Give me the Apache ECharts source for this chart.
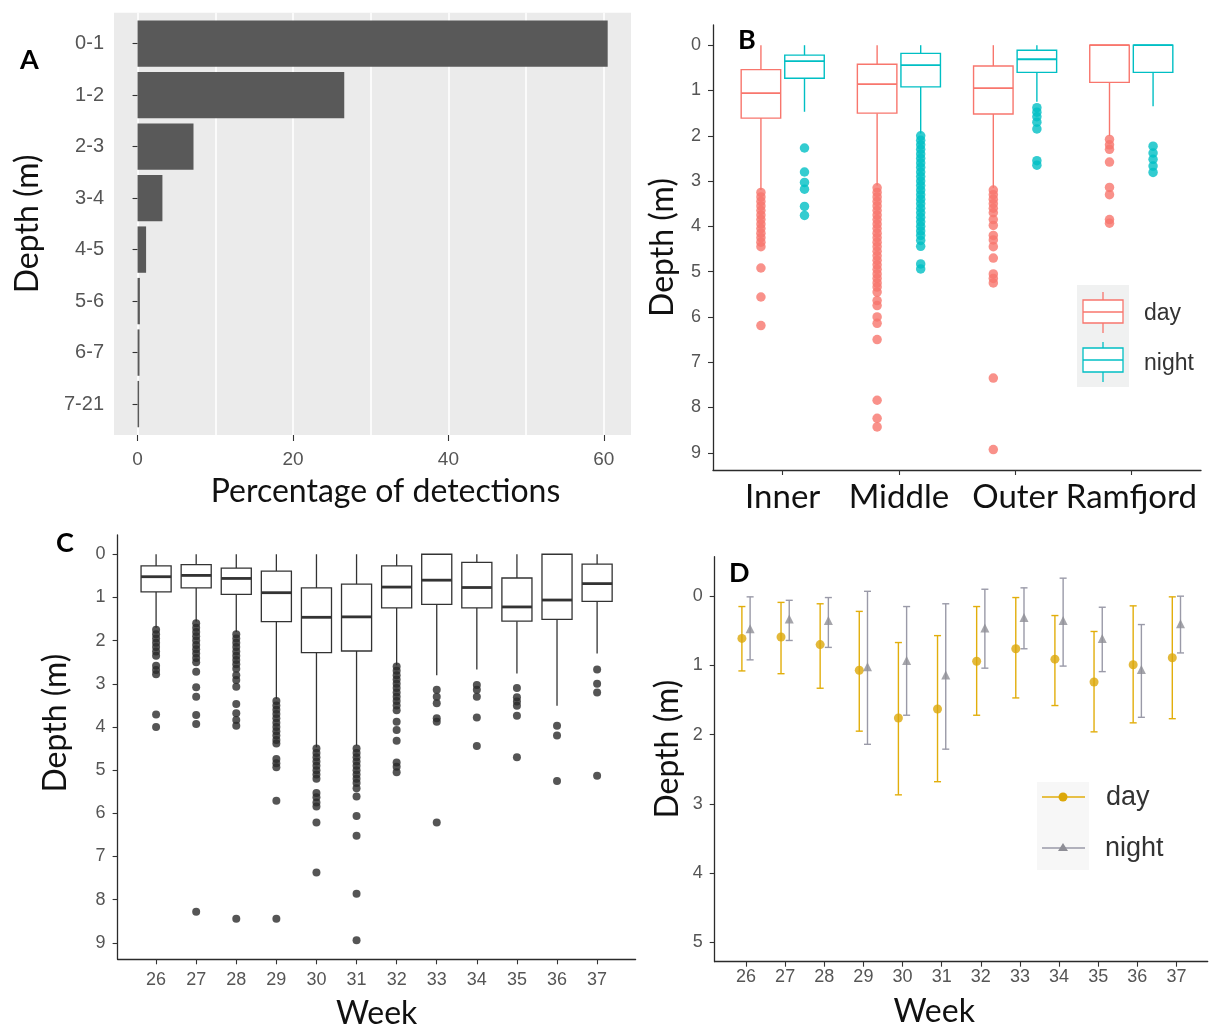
<!DOCTYPE html>
<html>
<head>
<meta charset="utf-8">
<script src="https://cdn.jsdelivr.net/npm/echarts@6/dist/echarts.min.js"></script>
<style>
  html, body { margin: 0; padding: 0; background: #fff; }
  #chart { width: 1210px; height: 1032px; }
</style>
</head>
<body>
<div id="chart"></div>
<script>
// ---- panel A: share of detections per depth bin
const depthBins = ['0-1', '1-2', '2-3', '3-4', '4-5', '5-6', '6-7', '7-21'];
const pctDetections = [60.5, 26.6, 7.2, 3.2, 1.1, 0.3, 0.25, 0.2];
const pctTicks = [0, 20, 40, 60];
const pctGrid = [0, 10, 20, 30, 40, 50, 60];

// ---- panel B: depth by site, day / night
// each box: [upper whisker, Q1, median, Q3, lower whisker] in metres
const sites = ['Inner', 'Middle', 'Outer', 'Ramfjord'];
const siteDay = [
  [0, 0.54, 1.06, 1.61, 3.2],
  [0, 0.42, 0.86, 1.5, 3.1],
  [0, 0.46, 0.95, 1.52, 3.15],
  [0, 0, 0, 0.82, 2.0]
];
const siteNight = [
  [0, 0.22, 0.35, 0.73, 1.47],
  [0, 0.18, 0.44, 0.92, 1.95],
  [0, 0.11, 0.31, 0.6, 1.25],
  [0, 0, 0, 0.6, 1.35]
];
const siteDayOut = [
  [3.25, 3.35, 3.45, 3.55, 3.65, 3.75, 3.85, 3.95, 4.05, 4.15, 4.25, 4.35, 4.45, 4.92, 5.56, 6.19],
  [3.15, 3.25, 3.35, 3.45, 3.55, 3.65, 3.75, 3.85, 3.95, 4.05, 4.15, 4.25, 4.35, 4.45, 4.55, 4.65,
   4.75, 4.85, 4.95, 5.05, 5.15, 5.25, 5.34, 5.45, 5.64, 5.75, 6.0, 6.14, 6.5, 7.84, 8.24, 8.43],
  [3.2, 3.3, 3.4, 3.5, 3.6, 3.7, 3.85, 3.98, 4.2, 4.3, 4.45, 4.7, 5.05, 5.15, 5.25, 7.35, 8.93],
  [2.08, 2.2, 2.3, 2.58, 3.14, 3.3, 3.85, 3.93]
];
const siteNightOut = [
  [2.27, 2.8, 3.03, 3.18, 3.56, 3.76],
  [2.0, 2.1, 2.2, 2.3, 2.4, 2.5, 2.6, 2.7, 2.8, 2.9, 3.0, 3.1, 3.2, 3.3, 3.4, 3.5, 3.6, 3.7,
   3.8, 3.9, 4.0, 4.1, 4.2, 4.31, 4.44, 4.83, 4.94],
  [1.38, 1.48, 1.58, 1.7, 1.85, 2.55, 2.65],
  [2.23, 2.38, 2.52, 2.67, 2.81]
];
const depthTicks = [0, 1, 2, 3, 4, 5, 6, 7, 8, 9];

// ---- panel C: depth by week
const weeks = [26, 27, 28, 29, 30, 31, 32, 33, 34, 35, 36, 37];
const weekBox = [
  [0, 0.27, 0.52, 0.87, 1.7],
  [0, 0.24, 0.49, 0.78, 1.56],
  [0, 0.32, 0.56, 0.93, 1.8],
  [0, 0.39, 0.89, 1.56, 3.35],
  [0, 0.78, 1.46, 2.28, 4.47],
  [0, 0.69, 1.45, 2.24, 4.43],
  [0, 0.27, 0.76, 1.24, 2.57],
  [0, 0, 0.6, 1.16, 2.8],
  [0, 0.19, 0.77, 1.24, 2.67],
  [0, 0.55, 1.22, 1.55, 2.76],
  [0, 0, 1.06, 1.51, 3.51],
  [0, 0.23, 0.68, 1.09, 2.3]
];
const weekOut = [
  [1.75, 1.85, 1.95, 2.05, 2.15, 2.25, 2.35, 2.58, 2.68, 2.78, 3.71, 4.0],
  [1.6, 1.7, 1.8, 1.9, 2.0, 2.1, 2.2, 2.3, 2.4, 2.5, 2.72, 3.08, 3.3, 3.72, 3.93, 8.28],
  [1.85, 1.95, 2.05, 2.15, 2.25, 2.35, 2.45, 2.55, 2.65, 2.8, 2.91, 3.07, 3.47, 3.68, 3.84, 3.97, 8.44],
  [3.4, 3.5, 3.6, 3.7, 3.8, 3.9, 4.0, 4.1, 4.2, 4.3, 4.38, 4.74, 4.84, 4.93, 5.71, 8.44],
  [4.5, 4.6, 4.7, 4.8, 4.9, 5.0, 5.1, 5.2, 5.53, 5.63, 5.75, 5.84, 6.21, 7.37],
  [4.5, 4.6, 4.7, 4.8, 4.9, 5.0, 5.1, 5.2, 5.3, 5.42, 5.61, 6.06, 6.52, 7.86, 8.94],
  [2.6, 2.7, 2.8, 2.9, 3.0, 3.1, 3.2, 3.3, 3.4, 3.5, 3.61, 3.88, 4.07, 4.32, 4.82, 4.92, 5.05],
  [3.14, 3.3, 3.45, 3.8, 3.88, 6.21],
  [3.03, 3.14, 3.3, 3.78, 4.44],
  [3.1, 3.31, 3.41, 3.51, 3.74, 4.7],
  [3.97, 4.2, 5.25],
  [2.67, 3.0, 3.2, 5.13]
];

// ---- panel D: mean depth +- sd by week
const dayMean = [0.61, 0.59, 0.70, 1.07, 1.76, 1.63, 0.94, 0.76, 0.91, 1.24, 0.99, 0.89];
const dayTop = [0.15, 0.09, 0.11, 0.22, 0.67, 0.57, 0.15, 0.02, 0.28, 0.51, 0.14, 0.01];
const dayBottom = [1.08, 1.12, 1.33, 1.95, 2.87, 2.68, 1.72, 1.47, 1.58, 1.96, 1.83, 1.77];
const nightMean = [0.47, 0.33, 0.35, 1.02, 0.93, 1.14, 0.46, 0.31, 0.35, 0.61, 1.06, 0.40];
const nightTop = [0.01, 0.06, 0.02, -0.07, 0.15, 0.11, -0.1, -0.12, -0.26, 0.16, 0.41, 0.0];
const nightBottom = [0.92, 0.64, 0.74, 2.14, 1.72, 2.21, 1.04, 0.76, 1.01, 1.09, 1.75, 0.82];
const meanTicks = [0, 1, 2, 3, 4, 5];

const RED = '#F8766D', TEAL = '#00BFC4', GOLD = '#E2AE0B', GREY = '#9a9aa8';
const TITLE_FONT = 'Lato, "Open Sans", sans-serif';
const TICK_FONT = '"Liberation Sans", Arial, sans-serif';
const TITLE_SIZE = 32;

const chart = echarts.init(document.getElementById('chart'));

// box + whiskers drawn from the axis scales
function boxRenderer(boxW, color, lw, medW) {
  return function (params, api) {
    const x = api.value(0);
    const top = api.coord([x, api.value(1)]);
    const q1 = api.coord([x, api.value(2)]);
    const med = api.coord([x, api.value(3)]);
    const q3 = api.coord([x, api.value(4)]);
    const bot = api.coord([x, api.value(5)]);
    const w = api.size([boxW, 0])[0];
    const ls = { stroke: color, lineWidth: lw };
    return {
      type: 'group',
      children: [
        { type: 'line', shape: { x1: top[0], y1: top[1], x2: q1[0], y2: q1[1] }, style: ls },
        { type: 'line', shape: { x1: q3[0], y1: q3[1], x2: bot[0], y2: bot[1] }, style: ls },
        { type: 'rect', shape: { x: q1[0] - w / 2, y: q1[1], width: w, height: q3[1] - q1[1] },
          style: { fill: '#fff', stroke: color, lineWidth: lw } },
        { type: 'line', shape: { x1: med[0] - w / 2, y1: med[1], x2: med[0] + w / 2, y2: med[1] },
          style: { stroke: color, lineWidth: medW } }
      ]
    };
  };
}

function errRenderer(capW, color) {
  return function (params, api) {
    const x = api.value(0);
    const a = api.coord([x, api.value(1)]);
    const b = api.coord([x, api.value(2)]);
    const c = api.size([capW, 0])[0] / 2;
    const ls = { stroke: color, lineWidth: 1.4 };
    return {
      type: 'group',
      children: [
        { type: 'line', shape: { x1: a[0], y1: a[1], x2: b[0], y2: b[1] }, style: ls },
        { type: 'line', shape: { x1: a[0] - c, y1: a[1], x2: a[0] + c, y2: a[1] }, style: ls },
        { type: 'line', shape: { x1: b[0] - c, y1: b[1], x2: b[0] + c, y2: b[1] }, style: ls }
      ]
    };
  };
}

function classicAxis(extra) {
  return Object.assign({
    type: 'value',
    axisLine: { show: true, onZero: false, lineStyle: { color: '#2b2b2b', width: 1.3 } },
    axisTick: { show: true, length: 5, lineStyle: { color: '#333', width: 1.1 } },
    axisLabel: { color: '#555', fontSize: 18, fontFamily: TICK_FONT },
    splitLine: { show: false },
    nameTextStyle: { color: '#111', fontSize: TITLE_SIZE, fontFamily: TITLE_FONT }
  }, extra);
}

function outliers(groups, offset) {
  const pts = [];
  groups.forEach((vals, i) => vals.forEach(v => pts.push([i + offset, v])));
  return pts;
}

const dodge = 0.1875;
const boxB = 0.34;

const option = {
  backgroundColor: '#fff',
  animation: false,
  grid: [
    { left: 114, top: 12.7, width: 517, height: 422.3, show: true, backgroundColor: '#ebebeb', borderWidth: 0 },
    { left: 713, top: 25, width: 488, height: 445 },
    { left: 117.6, top: 535, width: 518, height: 424.3 },
    { left: 714.7, top: 556.7, width: 493, height: 405 }
  ],
  xAxis: [
    {
      type: 'value', gridIndex: 0, min: -3.03, max: 63.5,
      axisLine: { show: false },
      axisTick: { show: true, length: 6, customValues: pctTicks, lineStyle: { color: '#333', width: 1.1 } },
      axisLabel: { customValues: pctTicks, color: '#555', fontSize: 19, fontFamily: TICK_FONT, margin: 15 },
      splitLine: { show: false },
      name: 'Percentage of detections', nameLocation: 'middle', nameGap: 41,
      nameTextStyle: { color: '#111', fontSize: TITLE_SIZE, fontFamily: TITLE_FONT, padding: [0, 0, 0, 26] }
    },
    {
      type: 'value', gridIndex: 0, min: -3.03, max: 63.5, position: 'top',
      axisLine: { show: false },
      axisTick: { show: false, customValues: pctGrid },
      axisLabel: { show: false },
      splitLine: { show: true, lineStyle: { color: '#fff', width: 1.6 } }
    },
    classicAxis({
      gridIndex: 1, min: -0.6, max: 3.6,
      axisTick: { show: true, length: 5, customValues: [0, 1, 2, 3], lineStyle: { color: '#333', width: 1.1 } },
      axisLabel: { customValues: [0, 1, 2, 3], formatter: v => sites[v], color: '#111',
                   fontSize: 33, fontFamily: TITLE_FONT, margin: 11 }
    }),
    classicAxis({
      gridIndex: 2, min: 25.04, max: 37.96, name: 'Week', nameLocation: 'middle', nameGap: 38,
      axisTick: { show: true, length: 5, customValues: weeks, lineStyle: { color: '#333', width: 1.1 } },
      axisLabel: { customValues: weeks, color: '#555', fontSize: 18, fontFamily: TICK_FONT, margin: 12 }
    }),
    classicAxis({
      gridIndex: 3, min: 25.2, max: 37.8, name: 'Week', nameLocation: 'middle', nameGap: 34,
      axisTick: { show: true, length: 5, customValues: weeks, lineStyle: { color: '#333', width: 1.1 } },
      axisLabel: { customValues: weeks, color: '#555', fontSize: 18, fontFamily: TICK_FONT, margin: 6 },
      nameTextStyle: { color: '#111', fontSize: TITLE_SIZE, fontFamily: TITLE_FONT, padding: [0, 54, 0, 0] }
    })
  ],
  yAxis: [
    {
      type: 'value', gridIndex: 0, inverse: true, min: 0.4, max: 8.6,
      axisLine: { show: false },
      axisTick: { show: true, length: 5, customValues: [1, 2, 3, 4, 5, 6, 7, 8], lineStyle: { color: '#333', width: 1.1 } },
      axisLabel: { customValues: [1, 2, 3, 4, 5, 6, 7, 8], formatter: v => depthBins[v - 1],
                   color: '#555', fontSize: 20, fontFamily: TICK_FONT, margin: 10 },
      splitLine: { show: false },
      name: 'Depth (m)', nameLocation: 'middle', nameGap: 70,
      nameTextStyle: { color: '#111', fontSize: TITLE_SIZE, fontFamily: TITLE_FONT }
    },
    classicAxis({
      gridIndex: 1, inverse: true, min: -0.446, max: 9.38, name: 'Depth (m)', nameLocation: 'middle', nameGap: 34,
      axisTick: { show: true, length: 5, customValues: depthTicks, lineStyle: { color: '#333', width: 1.1 } },
      axisLabel: { customValues: depthTicks, color: '#555', fontSize: 18, fontFamily: TICK_FONT, margin: 12 }
    }),
    classicAxis({
      gridIndex: 2, inverse: true, min: -0.446, max: 9.38, name: 'Depth (m)', nameLocation: 'middle', nameGap: 46,
      axisTick: { show: true, length: 5, customValues: depthTicks, lineStyle: { color: '#333', width: 1.1 } },
      axisLabel: { customValues: depthTicks, color: '#555', fontSize: 18, fontFamily: TICK_FONT, margin: 12 },
      nameTextStyle: { color: '#111', fontSize: TITLE_SIZE, fontFamily: TITLE_FONT, padding: [0, 0, 0, 48] }
    }),
    classicAxis({
      gridIndex: 3, inverse: true, min: -0.57, max: 5.28, name: 'Depth (m)', nameLocation: 'middle', nameGap: 31,
      axisTick: { show: true, length: 5, customValues: meanTicks, lineStyle: { color: '#333', width: 1.1 } },
      axisLabel: { customValues: meanTicks, color: '#555', fontSize: 18, fontFamily: TICK_FONT, margin: 12 },
      nameTextStyle: { color: '#111', fontSize: TITLE_SIZE, fontFamily: TITLE_FONT, padding: [0, 0, 0, 20] }
    })
  ],
  series: [
    // A
    {
      type: 'custom', xAxisIndex: 0, yAxisIndex: 0,
      data: pctDetections.map((v, i) => [v, i + 1]),
      renderItem: function (params, api) {
        const s = api.coord([0, api.value(1)]);
        const e = api.coord([api.value(0), api.value(1)]);
        const h = api.size([0, 0.9])[1];
        return { type: 'rect', shape: { x: s[0], y: s[1] - h / 2, width: Math.max(e[0] - s[0], 1), height: h },
                 style: { fill: '#595959' } };
      }
    },
    // B
    {
      type: 'scatter', xAxisIndex: 2, yAxisIndex: 1, symbolSize: 9.5,
      itemStyle: { color: RED }, data: outliers(siteDayOut, -dodge)
    },
    {
      type: 'scatter', xAxisIndex: 2, yAxisIndex: 1, symbolSize: 9.5,
      itemStyle: { color: TEAL }, data: outliers(siteNightOut, dodge)
    },
    {
      type: 'custom', xAxisIndex: 2, yAxisIndex: 1,
      data: siteDay.map((b, i) => [i - dodge].concat(b)),
      renderItem: boxRenderer(boxB, RED, 1.4, 1.8)
    },
    {
      type: 'custom', xAxisIndex: 2, yAxisIndex: 1,
      data: siteNight.map((b, i) => [i + dodge].concat(b)),
      renderItem: boxRenderer(boxB, TEAL, 1.4, 1.8)
    },
    // C
    {
      type: 'scatter', xAxisIndex: 3, yAxisIndex: 2, symbolSize: 8,
      itemStyle: { color: '#2b2b2b' },
      data: weekOut.flatMap((vals, i) => vals.map(v => [weeks[i], v]))
    },
    {
      type: 'custom', xAxisIndex: 3, yAxisIndex: 2,
      data: weekBox.map((b, i) => [weeks[i]].concat(b)),
      renderItem: boxRenderer(0.75, '#333', 1.3, 2.8)
    },
    // D
    {
      type: 'custom', xAxisIndex: 4, yAxisIndex: 3,
      data: weeks.map((w, i) => [w - 0.105, dayTop[i], dayBottom[i]]),
      renderItem: errRenderer(0.18, GOLD)
    },
    {
      type: 'custom', xAxisIndex: 4, yAxisIndex: 3,
      data: weeks.map((w, i) => [w + 0.105, nightTop[i], nightBottom[i]]),
      renderItem: errRenderer(0.18, GREY)
    },
    {
      type: 'scatter', xAxisIndex: 4, yAxisIndex: 3, symbol: 'circle', symbolSize: 9,
      itemStyle: { color: '#DCA80A' },
      data: weeks.map((w, i) => [w - 0.105, dayMean[i]])
    },
    {
      type: 'scatter', xAxisIndex: 4, yAxisIndex: 3, symbol: 'triangle', symbolSize: 9,
      itemStyle: { color: '#8e8e96' },
      data: weeks.map((w, i) => [w + 0.105, nightMean[i]])
    }
  ],
  graphic: [
    // panel letters
    { type: 'text', left: 20, top: 47, style: { text: 'A', fill: '#000', font: 'bold 27px ' + TITLE_FONT } },
    { type: 'text', left: 738, top: 27, style: { text: 'B', fill: '#000', font: 'bold 27px ' + TITLE_FONT } },
    { type: 'text', left: 56, top: 530, style: { text: 'C', fill: '#000', font: 'bold 27px ' + TITLE_FONT } },
    { type: 'text', left: 729, top: 560, style: { text: 'D', fill: '#000', font: 'bold 27px ' + TITLE_FONT } },
    // legend B
    { type: 'rect', shape: { x: 1077, y: 285, width: 52, height: 102 }, style: { fill: '#f0f1f1' } },
    { type: 'line', shape: { x1: 1103, y1: 292, x2: 1103, y2: 333 }, style: { stroke: RED, lineWidth: 1.3 } },
    { type: 'rect', shape: { x: 1083, y: 300, width: 40, height: 23 }, style: { fill: '#fff', stroke: RED, lineWidth: 1.3 } },
    { type: 'line', shape: { x1: 1083, y1: 312, x2: 1123, y2: 312 }, style: { stroke: RED, lineWidth: 1.5 } },
    { type: 'line', shape: { x1: 1103, y1: 342, x2: 1103, y2: 382 }, style: { stroke: TEAL, lineWidth: 1.3 } },
    { type: 'rect', shape: { x: 1083, y: 348, width: 40, height: 24 }, style: { fill: '#fff', stroke: TEAL, lineWidth: 1.3 } },
    { type: 'line', shape: { x1: 1083, y1: 360, x2: 1123, y2: 360 }, style: { stroke: TEAL, lineWidth: 1.5 } },
    { type: 'text', x: 1144, y: 314, style: { text: 'day', fill: '#333', font: '23px ' + TICK_FONT, textVerticalAlign: 'middle', verticalAlign: 'middle' } },
    { type: 'text', x: 1144, y: 364, style: { text: 'night', fill: '#333', font: '23px ' + TICK_FONT, textVerticalAlign: 'middle', verticalAlign: 'middle' } },
    // legend D
    { type: 'rect', shape: { x: 1037, y: 782, width: 52, height: 88 }, style: { fill: '#f7f7f7' } },
    { type: 'line', shape: { x1: 1042, y1: 797, x2: 1085, y2: 797 }, style: { stroke: GOLD, lineWidth: 1.6 } },
    { type: 'circle', shape: { cx: 1063, cy: 797, r: 4.5 }, style: { fill: '#DCA80A' } },
    { type: 'line', shape: { x1: 1042, y1: 848, x2: 1085, y2: 848 }, style: { stroke: GREY, lineWidth: 1.6 } },
    { type: 'polygon', shape: { points: [[1063, 843], [1058, 851], [1068, 851]] }, style: { fill: '#8e8e96' } },
    { type: 'text', x: 1106, y: 798, style: { text: 'day', fill: '#333', font: '27px ' + TICK_FONT, textVerticalAlign: 'middle', verticalAlign: 'middle' } },
    { type: 'text', x: 1105, y: 849, style: { text: 'night', fill: '#333', font: '27px ' + TICK_FONT, textVerticalAlign: 'middle', verticalAlign: 'middle' } }
  ]
};

chart.setOption(option);
</script>
</body>
</html>
